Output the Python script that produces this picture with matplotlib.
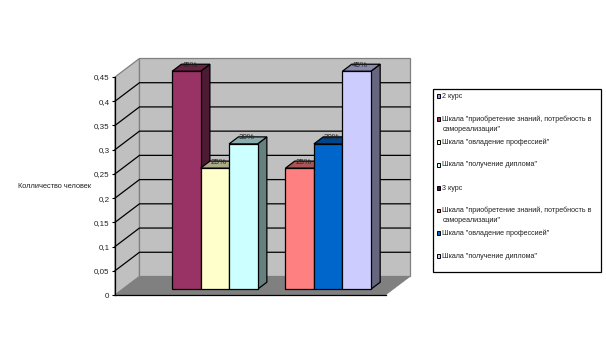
import matplotlib
matplotlib.use('Agg')
import matplotlib.pyplot as plt
from matplotlib.patches import Polygon, Rectangle

plt.rcParams['font.family'] = ['Liberation Sans', 'DejaVu Sans']

# доли по шкалам
kurs2 = [0.45, 0.25, 0.30]
kurs3 = [0.25, 0.30, 0.45]
podpisi2 = ['45%', '25%', '30%']
podpisi3 = ['25%', '30%', '45%']

tiki = [0, 0.05, 0.1, 0.15, 0.2, 0.25, 0.3, 0.35, 0.4, 0.45]
tiki_text = ['0', '0,05', '0,1', '0,15', '0,2', '0,25', '0,3', '0,35', '0,4', '0,45']

cveta2 = ['#993366', '#ffffcc', '#ccffff']
cveta3 = ['#ff8080', '#0066cc', '#ccccff']

legenda = ['2 курс',
           'Шкала "приобретение знаний, потребность в\nсамореализации"',
           'Шкала "овладение профессией"',
           'Шкала "получение диплома"',
           '3 курс',
           'Шкала "приобретение знаний, потребность в\nсамореализации"',
           'Шкала "овладение профессией"',
           'Шкала "получение диплома"']
legenda_cveta = ['#9999ff', '#993366', '#ffffcc', '#ccffff',
                 '#660066', '#ff8080', '#0066cc', '#ccccff']
legenda_y = [96, 119, 142, 165, 188, 210.5, 233, 256]

W, H = 606, 361
fig = plt.figure(figsize=(W / 100, H / 100), dpi=100)

# оси: 115..385.5 пикселей по x, 295..77 по y
ax = fig.add_axes([115 / W, 1 - 295 / H, 270.5 / W, 218 / H])
ax.set_xlim(0, 9.5)
ax.set_ylim(0, 0.45)
ax.patch.set_visible(False)
for s in ['top', 'right']:
    ax.spines[s].set_visible(False)
for s in ['left', 'bottom']:
    ax.spines[s].set_linewidth(0.9)
    ax.spines[s].set_zorder(20)
ax.set_xticks([])
ax.set_yticks(tiki)
ax.set_yticklabels(tiki_text, fontsize=5.8, color='#222222')
ax.tick_params(axis='y', length=2.5, width=0.8, pad=1.5)

# сдвиг в глубину
DX = 24.5 / 28.5
DY = 18.5 / 484
D0, D1 = 0.31, 0.69


def pt(x, v, d=0):
    return (x + d * DX, v + d * DY)


def poly(points, color, ec='black', lw=0.9, z=1):
    ax.add_patch(Polygon(points, closed=True, facecolor=color, edgecolor=ec,
                         linewidth=lw, zorder=z, clip_on=False, joinstyle='miter'))


# стены и пол
poly([pt(0, 0), pt(0, 0, 1), pt(0, 0.45, 1), pt(0, 0.45)], '#c0c0c0', '#808080', 0.9)
poly([pt(0, 0, 1), pt(9.5, 0, 1), pt(9.5, 0.45, 1), pt(0, 0.45, 1)], '#c0c0c0', '#808080', 0.9)
poly([pt(0, 0), pt(0, 0, 1), pt(9.5, 0, 1), pt(9.5, 0)], '#808080', '#808080', 0.5)

for t in tiki[1:-1]:
    a, b, c = pt(0, t), pt(0, t, 1), pt(9.5, t, 1)
    ax.plot([a[0], b[0], c[0]], [a[1], b[1], c[1]], color='black', lw=0.9,
            zorder=2, clip_on=False, solid_joinstyle='miter')


def temnee(c, k):
    r, g, b = matplotlib.colors.to_rgb(c)
    return (r * k, g * k, b * k)


def stolbik(x, v, color, z):
    poly([pt(x + 1, 0, D0), pt(x + 1, 0, D1), pt(x + 1, v, D1), pt(x + 1, v, D0)],
         temnee(color, 0.5), z=z)
    poly([pt(x, v, D0), pt(x + 1, v, D0), pt(x + 1, v, D1), pt(x, v, D1)],
         temnee(color, 0.67), z=z)
    poly([pt(x, 0, D0), pt(x + 1, 0, D0), pt(x + 1, v, D0), pt(x, v, D0)], color, z=z + 1)


def gruppa(start, values, colors, labels, z):
    for i, v in enumerate(values):
        stolbik(start + i, v, colors[i], z + i * 2)
    for i, v in enumerate(values):
        tx = pt(start + i + 0.5, v, D0)[0] + 0.13
        ty = pt(start + i + 0.5, v, D1)[1] - 0.002
        ax.text(tx, ty, labels[i], fontsize=5.8, ha='center', va='center',
                color='#222222', zorder=30, clip_on=False)


gruppa(1.74, kurs2, cveta2, podpisi2, 3)
gruppa(5.72, kurs3, cveta3, podpisi3, 10)

# подпись оси и легенда в пикселях
ov = fig.add_axes([0, 0, 1, 1])
ov.set_xlim(0, W)
ov.set_ylim(H, 0)
ov.axis('off')
ov.patch.set_visible(False)
ov.text(18, 186, 'Колличество человек', fontsize=5.3, va='center', color='#222222')
ov.add_patch(Rectangle((432.5, 88.5), 168.5, 183, facecolor='white', edgecolor='black', lw=0.9))
for txt, col, y in zip(legenda, legenda_cveta, legenda_y):
    ov.add_patch(Rectangle((436.5, y - 2), 3.5, 3.5, facecolor=col, edgecolor='black', lw=0.7))
    ov.text(442.5, y - 3.5, txt, fontsize=5.15, va='top', color='#222222', linespacing=1.6)

fig.savefig('out.png', dpi=100)
